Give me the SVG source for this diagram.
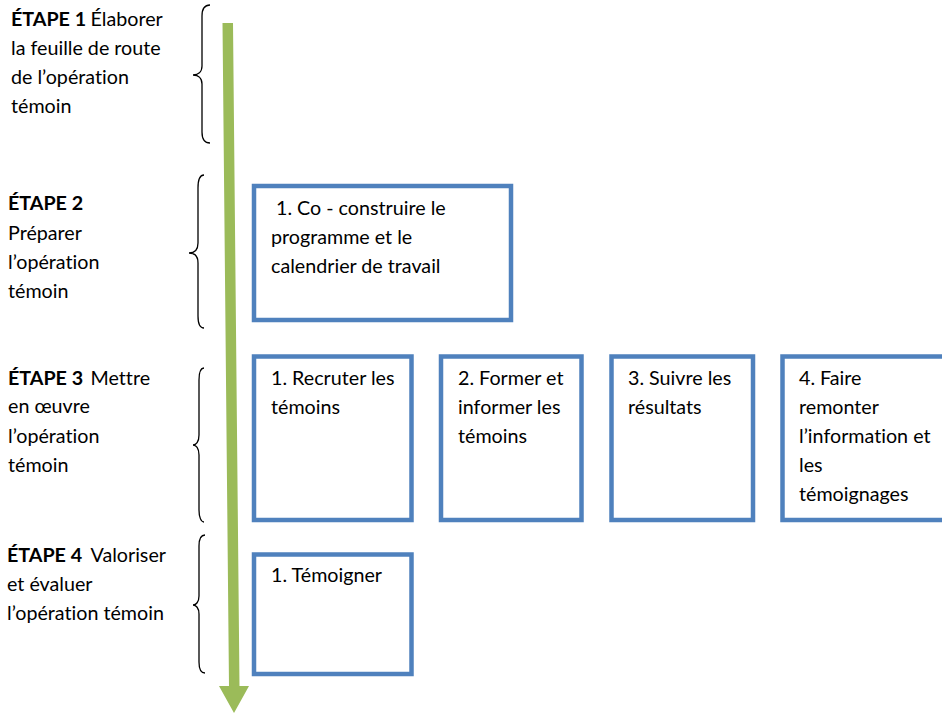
<svg xmlns="http://www.w3.org/2000/svg" width="942" height="713" viewBox="0 0 942 713">
<style>
text { font-family: Lato, "Liberation Sans", sans-serif; font-size: 19.7px; fill: #000; font-variant-ligatures: none; font-feature-settings: "liga" 0; }
.b { font-weight: bold; }
.box { fill: #fff; stroke: #4F81BD; stroke-width: 4.5; }
.brace { fill: none; stroke: #000; stroke-width: 1.3; }
</style>
<rect width="942" height="713" fill="#fff"/>
<g id="connectors">
<polygon points="222.5,23 233,23 239.5,686 249,686 234,713 219,686 229,686" fill="#9BBB59"/>
</g>
<g id="step1">
<path class="brace" d="M210,5 C205,5 202,9 202,16 L202,66 C202,72 198,75 193,75 C198,75 202,78 202,84 L202,132 C202,139 205,143 210,143"/>
<text x="11" y="26"><tspan class="b">ÉTAPE 1</tspan><tspan x="90.5">Élaborer</tspan></text>
<text x="11" y="55">la feuille de route</text>
<text x="11" y="84">de l’opération</text>
<text x="11" y="113">témoin</text>
</g>
<g id="step2">
<path class="brace" d="M204,175 C200,175 198,180 198,188 L198,243 C198,250 194,253 189,253 C194,253 198,256 198,263 L198,316 C198,323 200,328 204,328"/>
<text class="b" x="8" y="210">ÉTAPE 2</text>
<text x="8" y="240">Préparer</text>
<text x="8" y="269">l’opération</text>
<text x="8" y="298">témoin</text>
</g>
<g id="step3">
<path class="brace" d="M204,368 C201,368 199,372 199,380 L199,435 C199,442 196,445 193,445 C196,445 199,448 199,455 L199,510 C199,517 201,522 204,522"/>
<text x="8" y="385"><tspan class="b">ÉTAPE 3</tspan><tspan x="90.5">Mettre</tspan></text>
<text x="8" y="413">en œuvre</text>
<text x="8" y="443">l’opération</text>
<text x="8" y="472">témoin</text>
</g>
<g id="step4">
<path class="brace" d="M205,535 C201,535 199,539 199,546 L199,596 C199,602 196,605 193,605 C196,605 199,608 199,614 L199,662 C199,669 201,673 205,673"/>
<text x="7" y="562"><tspan class="b">ÉTAPE 4</tspan><tspan x="90.5">Valoriser</tspan></text>
<text x="7" y="591">et évaluer</text>
<text x="7" y="620">l’opération témoin</text>
</g>
<g id="box-s2-1">
<rect class="box" x="254" y="186" width="257" height="134"/>
<text x="276" y="215">1. Co - construire le</text>
<text x="271" y="244">programme et le</text>
<text x="271" y="273">calendrier de travail</text>
</g>
<g id="box-s3-1">
<rect class="box" x="254" y="356.5" width="157.5" height="163.5"/>
<text x="271" y="385">1. Recruter les</text>
<text x="271" y="414">témoins</text>
</g>
<g id="box-s3-2">
<rect class="box" x="441" y="356.5" width="140.5" height="163.5"/>
<text x="458" y="385">2. Former et</text>
<text x="458" y="414">informer les</text>
<text x="458" y="443">témoins</text>
</g>
<g id="box-s3-3">
<rect class="box" x="611.5" y="356.5" width="141.5" height="163.5"/>
<text x="628" y="385">3. Suivre les</text>
<text x="628" y="414">résultats</text>
</g>
<g id="box-s3-4">
<rect class="box" x="782.5" y="356.5" width="180" height="163.5"/>
<text x="799" y="385">4. Faire</text>
<text x="799" y="414">remonter</text>
<text x="799" y="443">l’information et</text>
<text x="799" y="472">les</text>
<text x="799" y="501">témoignages</text>
</g>
<g id="box-s4-1">
<rect class="box" x="254" y="554.5" width="157.5" height="119.5"/>
<text x="271" y="582">1. Témoigner</text>
</g>
</svg>
